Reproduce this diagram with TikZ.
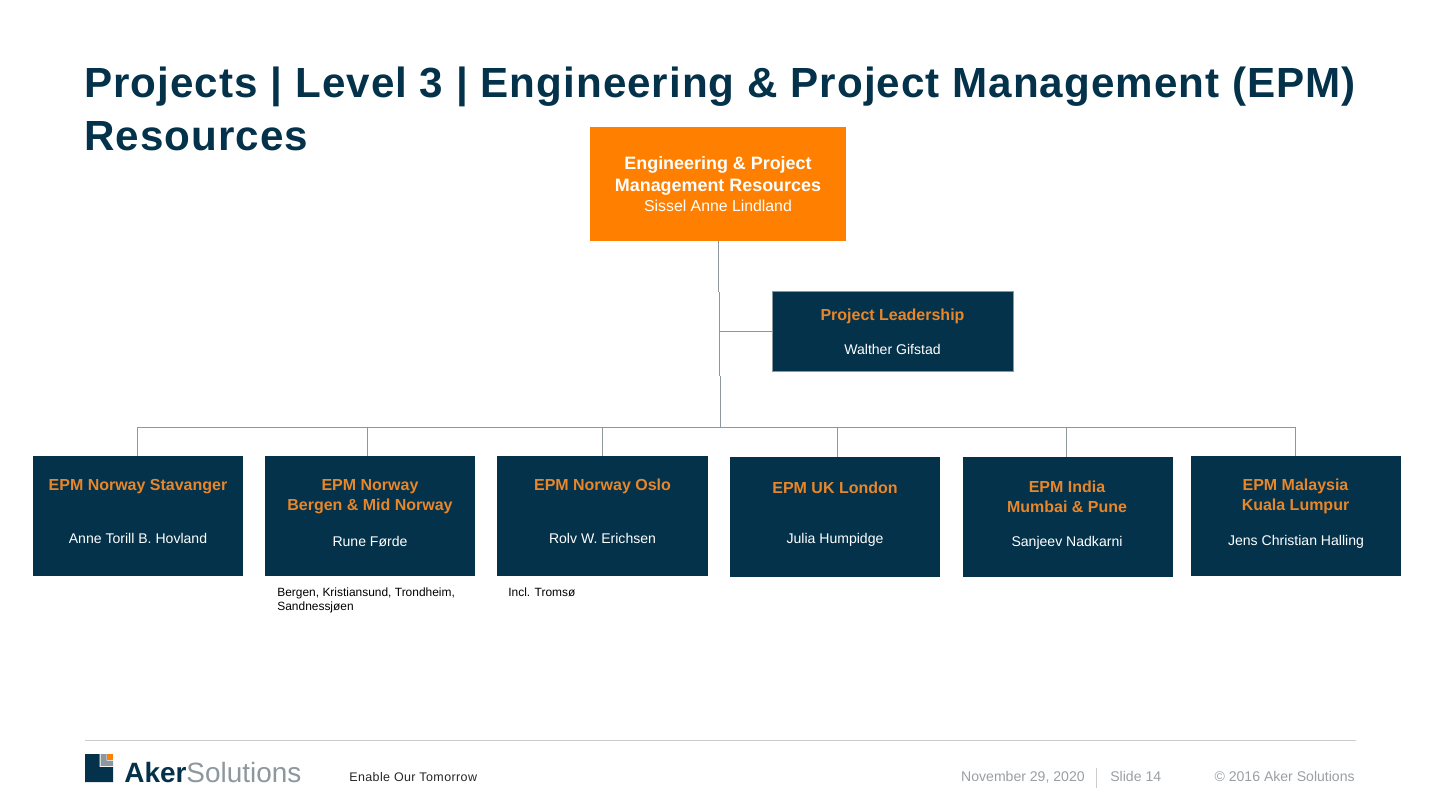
\documentclass[tikz,border=0pt]{standalone}
\usepackage{fontspec}
\setmainfont{Liberation Sans}
\usetikzlibrary{positioning}
\definecolor{akerblue}{HTML}{03324A}
\definecolor{akerorange}{HTML}{FF8000}
\definecolor{akerlabel}{HTML}{E8862A}
\definecolor{akergrey}{HTML}{8C979E}
\definecolor{footgrey}{HTML}{9A9FA3}
\tikzset{
  unitbox/.style={draw=none, fill=akerblue, minimum width=4.2cm, minimum height=2.4cm, inner sep=0pt},
  unithead/.style={text=akerlabel, font=\fontsize{9.1pt}{11.3pt}\selectfont\bfseries, align=center, inner sep=0pt},
  unitname/.style={text=white, font=\fontsize{8pt}{10pt}\selectfont, inner sep=0pt},
  unitnote/.style={text=black, font=\fontsize{6.8pt}{8pt}\selectfont, align=left, anchor=north west, inner sep=0pt},
  footer/.style={text=footgrey, font=\fontsize{8pt}{10pt}\selectfont, inner sep=0pt},
  link/.style={draw=akergrey, line width=0.5pt}
}
\begin{document}
\begin{tikzpicture}[x=0.02cm, y=-0.02cm]
\useasboundingbox (0,0) rectangle (1440,810);

% ===============================================================
% Title
% ===============================================================

\node[anchor=north west, inner sep=0pt, text=akerblue, align=left, font=\fontsize{24pt}{30.2pt}\selectfont\bfseries\addfontfeatures{LetterSpace=2.45}] (title) at (84,67)
  {Projects | Level 3 | Engineering \& Project Management (EPM)\\Resources};

% ===============================================================
% Top boxes
% ===============================================================

\node[fill=akerorange, minimum width=5.12cm, minimum height=2.28cm, inner sep=0pt] (lead) at (718,184) {};
\node[text=white, align=center, inner sep=0pt, font=\fontsize{10.2pt}{12.4pt}\selectfont\bfseries] (leadhead) at (718,176)
  {Engineering \& Project\\Management Resources};
\node[text=white, inner sep=0pt, font=\fontsize{9pt}{11pt}\selectfont] (leadname) at (718,205.5) {Sissel Anne Lindland};

\node[draw=akergrey, line width=0.4pt, fill=akerblue, minimum width=4.82cm, minimum height=1.6cm, inner sep=0pt] (proj) at (892.5,331) {};
\node[unithead] (projhead) at (892.5,316.5) {Project Leadership};
\node[unitname] (projname) at (892.5,349) {Walther Gifstad};

% ===============================================================
% Unit row
% ===============================================================

\node[unitbox] (stavanger) at (138,516) {};
\node[unitbox] (bergen)    at (370,516) {};
\node[unitbox, minimum width=4.22cm] (oslo) at (602.5,516) {};
\node[unitbox] (london)    at (835,517) {};
\node[unitbox] (india)     at (1068,517) {};
\node[unitbox] (malaysia)  at (1296,516) {};

% unit headings
\node[unithead] (stavangerhead) at (138,486.5) {EPM Norway Stavanger};
\node[unithead] (bergenhead)    at (370,496.5) {EPM Norway\\Bergen \& Mid Norway};
\node[unithead] (oslohead)      at (602.5,486) {EPM Norway Oslo};
\node[unithead] (londonhead)    at (835,488) {EPM UK London};
\node[unithead] (indiahead)     at (1067,497) {EPM India\\Mumbai \& Pune};
\node[unithead] (malaysiahead)  at (1295.5,496.5) {EPM Malaysia\\Kuala Lumpur};

% unit managers
\node[unitname] (stavangername) at (138,538) {Anne Torill B. Hovland};
\node[unitname] (bergenname)    at (370,541.5) {Rune Førde};
\node[unitname] (osloname)      at (602.5,538) {Rolv W. Erichsen};
\node[unitname] (londonname)    at (835,539.5) {Julia Humpidge};
\node[unitname] (indianame)     at (1067,542.5) {Sanjeev Nadkarni};
\node[unitname] (malaysianame)  at (1296,541.5) {Jens Christian Halling};

% notes below the row
\node[unitnote] (bergennote) at (277,587.5) {Bergen, Kristiansund, Trondheim,\\Sandnessjøen};
\node[unitnote] (oslonote)   at (508,587.5) {Incl. Tromsø};

% ===============================================================
% Connectors
% ===============================================================

\coordinate (trunkA) at (718,292);
\coordinate (trunkB) at (719,292);
\coordinate (trunkC) at (719,376);
\coordinate (trunkD) at (720,376);
\coordinate (hub)    at (720,427);
\coordinate (projjoin) at (718.5,331);
\coordinate (barleft)  at (137,427);
\coordinate (barright) at (1295,427);

\draw[link] (lead.south) -- (trunkA);
\draw[link] (trunkB) -- (trunkC);
\draw[link] (trunkD) -- (hub);
\draw[link] (projjoin) -- (proj.west);
\draw[link] (barleft) -- (barright);

\draw[link] (barleft) -- (barleft |- stavanger.north);
\draw[link] (367,427) coordinate (dropB) -- (dropB |- bergen.north);
\draw[link] (602,427) coordinate (dropC) -- (dropC |- oslo.north);
\draw[link] (837,427) coordinate (dropD) -- (dropD |- london.north);
\draw[link] (1066,427) coordinate (dropE) -- (dropE |- india.north);
\draw[link] (barright) -- (barright |- malaysia.north);

% ===============================================================
% Footer
% ===============================================================

\coordinate (ruleL) at (85,740.5);
\coordinate (ruleR) at (1356,740.5);
\draw[draw=black!20, line width=0.6pt] (ruleL) -- (ruleR);

% logo mark
\fill[akerblue] (85,754) -- (99.5,754) -- (99.5,767) -- (113,767) -- (113,782) -- (85,782) -- cycle;
\fill[akergrey] (100.5,754) -- (106.5,754) -- (106.5,760.5) -- (113,760.5) -- (113,766) -- (100.5,766) -- cycle;
\fill[akerorange] (107,754) rectangle (113,760);

\node[anchor=base west, inner sep=0pt, font=\fontsize{15.9pt}{18pt}\selectfont] (logotext) at (124,782)
  {\textcolor{akerblue}{\bfseries Aker}\textcolor{akergrey}{Solutions}};
\node[anchor=base west, inner sep=0pt, text=black!85, font=\fontsize{7.1pt}{9pt}\selectfont\addfontfeatures{LetterSpace=3.2}] (slogan) at (349,781) {Enable Our Tomorrow};

\node[footer, anchor=base east] (datetext) at (1085,781) {November 29, 2020};
\node[footer, anchor=base west] (slidetext) at (1110,781) {Slide 14};
\node[footer, anchor=base east] (copytext) at (1355,781) {© 2016 Aker Solutions};
\coordinate (sepT) at (1096.5,768);
\coordinate (sepB) at (1096.5,788);
\draw[draw=black!20, line width=0.6pt] (sepT) -- (sepB);

\end{tikzpicture}
\end{document}
